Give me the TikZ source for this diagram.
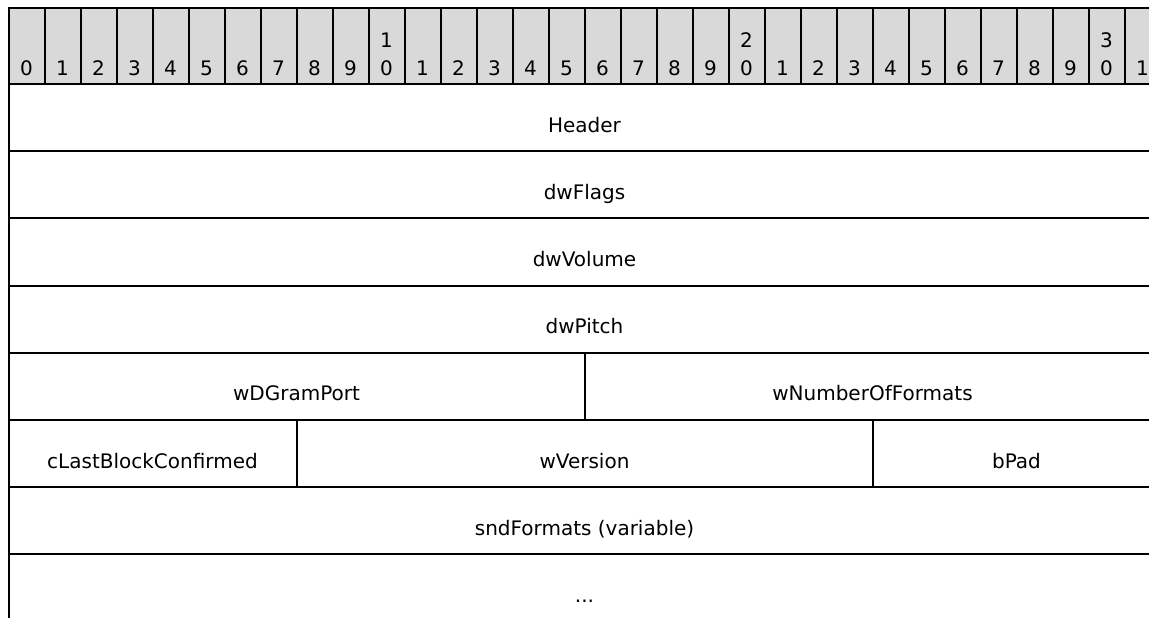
\documentclass[tikz,border=0pt]{standalone}
\usepackage{fontspec}
\setmainfont{DejaVu Sans}
\usetikzlibrary{positioning}
\definecolor{hdrgray}{RGB}{217,217,217}
\newcommand{\twodigit}[2]{\vbox{\hbox{#1}\hbox{#2}}}

\begin{document}
\begin{tikzpicture}[x=1pt, y=-1pt, node distance=0pt, font=\fontsize{20}{28}\selectfont]

	\tikzstyle{cell} = [draw, line width=2pt, rectangle, inner sep=0pt, outer sep=0pt]
	\tikzstyle{bit} = [cell, fill=hdrgray, minimum width=36pt, minimum height=76pt, text height=58pt, text depth=0pt]
	\tikzstyle{field} = [cell, minimum height=67.2pt, text height=29pt, text depth=0pt]

	\useasboundingbox (0,0) rectangle (1149,618);
	\clip (0,0) rectangle (1149,618);

	% bit ruler, tens digit only on 10, 20, 30
	\foreach \b in {0,...,31} {
		\pgfmathtruncatemacro{\tens}{\b/10}
		\pgfmathtruncatemacro{\ones}{mod(\b,10)}
		\ifnum\ones=0 \ifnum\b>0 \def\lbl{\twodigit{\tens}{0}}\else\def\lbl{0}\fi \else\def\lbl{\ones}\fi
		\node [bit, anchor=north west] (b\b) at (8.5+36*\b, 8) {\lbl};
	}

	\node [field, minimum width=1152pt, anchor=north west] (header) at (b0.south west) {Header};
	\node [field, minimum width=1152pt, below=of header] (flags) {dwFlags};
	\node [field, minimum width=1152pt, below=of flags] (volume) {dwVolume};
	\node [field, minimum width=1152pt, below=of volume] (pitch) {dwPitch};

	\node [field, minimum width=576pt, anchor=north west] (gramport) at (pitch.south west) {wDGramPort};
	\node [field, minimum width=576pt, right=of gramport] (numformats) {wNumberOfFormats};

	\node [field, minimum width=288pt, anchor=north west] (lastblock) at (gramport.south west) {cLastBlockConfirmed};
	\node [field, minimum width=576pt, right=of lastblock] (version) {wVersion};
	\node [field, minimum width=288pt, right=of version] (pad) {bPad};

	% variable part, open at the bottom
	\node [field, minimum width=1152pt, anchor=north west] (formats) at (lastblock.south west) {sndFormats (variable)};
	\node [field, minimum width=1152pt, below=of formats] (more) {...};

\end{tikzpicture}
\end{document}
